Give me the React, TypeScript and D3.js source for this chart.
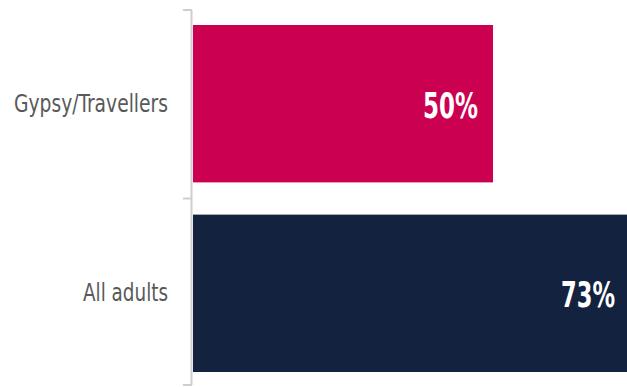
import React from "react";
import * as d3 from "d3";

const categories = ["Gypsy/Travellers", "All adults"];
const values = [50, 73];
const valueLabels = ["50%", "73%"];
const colors = ["#CC0050", "#13233F"];

const W = 627;
const H = 387;

export default function App() {
  const x = d3.scaleLinear().domain([0, 100]).range([193, 793]);
  const y = d3.scaleBand<string>().domain(categories).range([25, 372]).paddingInner(0.17).paddingOuter(0);
  const axisTop = 10;
  const axisBottom = 385;
  const tickYs = [axisTop, (y(categories[0])! + y.bandwidth() + y(categories[1])!) / 2, axisBottom];
  const font = "'DejaVu Sans Condensed', 'DejaVu Sans', sans-serif";
  const catWidths = [154, 85];
  const valWidths = [55, 54];
  const valInset = [15, 12];
  return (
    <svg width={W} height={H} style={{ position: "absolute", left: 0, top: 0, display: "block" }}>
      <defs>
        <clipPath id="plot">
          <rect x={0} y={0} width={W} height={H} />
        </clipPath>
      </defs>
      <g clipPath="url(#plot)">
        {categories.map((c, i) => (
          <rect
            key={c}
            x={x(0)}
            y={y(c)}
            width={x(values[i]) - x(0)}
            height={y.bandwidth()}
            fill={colors[i]}
          />
        ))}
      </g>
      <line x1={191.5} x2={191.5} y1={axisTop} y2={axisBottom} stroke="#cfcfcf" strokeWidth={2} />
      {tickYs.map((t, i) => (
        <line key={i} x1={183} x2={192} y1={t} y2={t} stroke="#cfcfcf" strokeWidth={2} />
      ))}
      {categories.map((c, i) => (
        <text
          key={"l" + c}
          x={168}
          y={y(c)! + y.bandwidth() / 2 + 8}
          textAnchor="end"
          fontFamily={font}
          fontSize={24}
          textLength={catWidths[i]}
          lengthAdjust="spacingAndGlyphs"
          fill="#595959"
        >
          {c}
        </text>
      ))}
      {categories.map((c, i) => (
        <text
          key={"v" + c}
          x={Math.min(x(values[i]), W) - valInset[i]}
          y={y(c)! + y.bandwidth() / 2 + 14}
          textAnchor="end"
          fontFamily={font}
          fontWeight="bold"
          fontSize={36}
          textLength={valWidths[i]}
          lengthAdjust="spacingAndGlyphs"
          fill="#ffffff"
        >
          {valueLabels[i]}
        </text>
      ))}
    </svg>
  );
}
